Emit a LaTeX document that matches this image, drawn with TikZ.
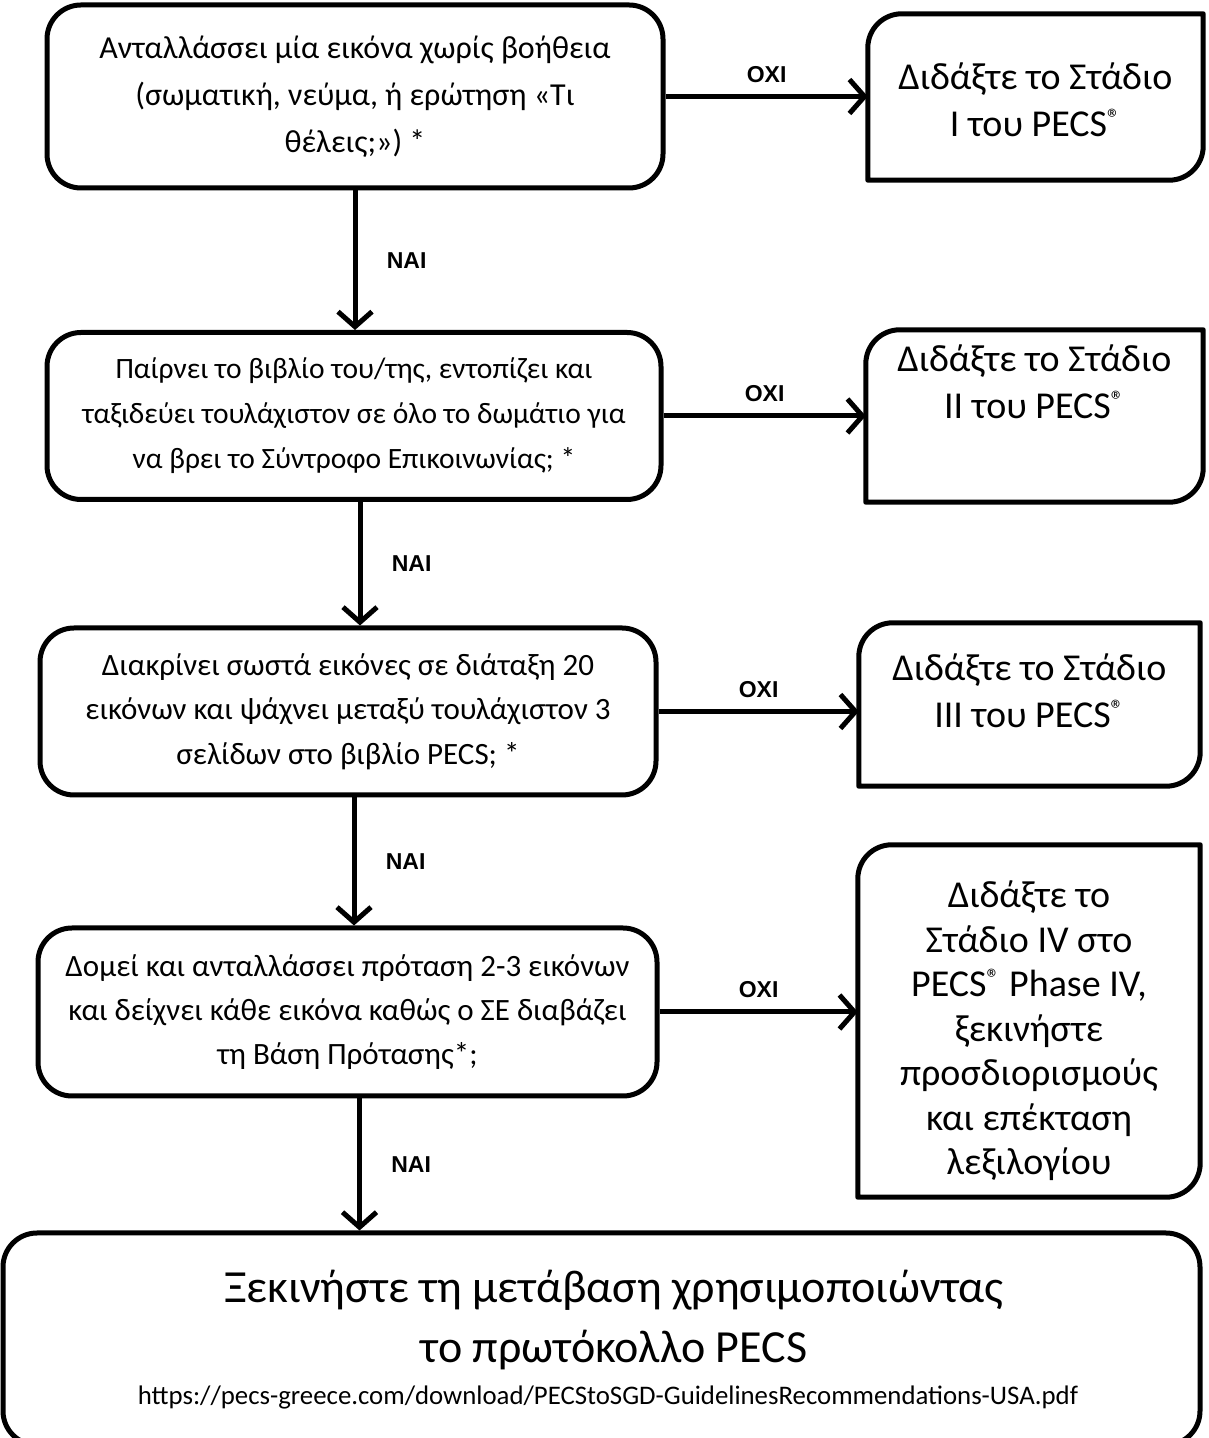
\documentclass[tikz,border=0pt]{standalone}
\usepackage{fontspec}
\setmainfont{Carlito}
\newfontfamily\labelfont{Liberation Sans}
\usetikzlibrary{arrows.meta}

\tikzset{every node/.style={align=center},
         qbox/.style={draw,line width=5pt,rounded corners=34pt,inner sep=0pt},
         abox/.style={inner sep=0pt},
         atext/.style={font=\fontsize{38}{47}\selectfont},
         outline/.style={line width=5pt,line join=round},
         flow/.style={line width=5pt,-{Straight Barb[length=15pt,width=34pt,line width=5pt]}},
         answer/.style={font=\labelfont\bfseries\fontsize{23}{26}\selectfont}}

\begin{document}
\begin{tikzpicture}[x=1pt,y=1pt]
\useasboundingbox (0,0) rectangle (1208,1438);
% questions
\node [qbox,minimum width=616,minimum height=183,font=\fontsize{32}{47}\selectfont] (b1) at (355,1341.5)
 {Ανταλλάσσει μία εικόνα χωρίς βοήθεια\\(σωματική, νεύμα, ή ερώτηση «Τι\\θέλεις;») *};
\node [qbox,minimum width=614,minimum height=167,font=\fontsize{29.5}{45}\selectfont] (b2) at (354,1022)
 {Παίρνει το βιβλίο του/της, εντοπίζει και\\ταξιδεύει τουλάχιστον σε όλο το δωμάτιο για\\να βρει το Σύντροφο Επικοινωνίας; *};
\node [qbox,minimum width=616,minimum height=167,font=\fontsize{31}{44.5}\selectfont] (b3) at (348,726.5)
 {Διακρίνει σωστά εικόνες σε διάταξη 20\\εικόνων και ψάχνει μεταξύ τουλάχιστον 3\\σελίδων στο βιβλίο PECS; *};
\node [qbox,minimum width=619,minimum height=168,font=\fontsize{31}{44}\selectfont] (b4) at (347.5,426)
 {Δομεί και ανταλλάσσει πρόταση 2-3 εικόνων\\και δείχνει κάθε εικόνα καθώς ο ΣΕ διαβάζει\\τη Βάση Πρότασης*;};
% answers
\node [abox,minimum width=335,minimum height=166] (r1) at (1035.5,1341) {};
\node [abox,minimum width=337,minimum height=172] (r2) at (1034.5,1022) {};
\node [abox,minimum width=341,minimum height=163] (r3) at (1029.5,733.5) {};
\node [abox,minimum width=342,minimum height=352] (r4) at (1029,417) {};
\node [atext] (r1t) at ([yshift=-3pt]r1) {Διδάξτε το Στάδιο\\Ι του PECS\textsuperscript{®}};
\node [atext] (r2t) at ([yshift=34pt]r2) {Διδάξτε το Στάδιο\\ΙΙ του PECS\textsuperscript{®}};
\node [atext] (r3t) at ([yshift=14pt]r3) {Διδάξτε το Στάδιο\\ΙΙΙ του PECS\textsuperscript{®}};
\node [atext,font=\fontsize{38}{44.5}\selectfont] (r4t) at ([yshift=-10pt]r4)
 {Διδάξτε το\\Στάδιο IV στο\\PECS\textsuperscript{®} Phase IV,\\ξεκινήστε\\προσδιορισμούς\\και επέκταση\\λεξιλογίου};
\foreach \r in {r1,r2,r3,r4}
 \draw [outline] (\r.north east) -- ([xshift=34pt]\r.north west) arc[start angle=90,end angle=180,radius=34]
   -- (\r.south west) -- ([xshift=-34pt]\r.south east) arc[start angle=-90,end angle=0,radius=34] -- cycle;
% final step
\node [qbox,minimum width=1197,minimum height=212] (bx) at (601.5,99) {};
\node [font=\fontsize{46}{60}\selectfont] (bxt) at (614,118) {Ξεκινήστε τη μετάβαση χρησιμοποιώντας\\το πρωτόκολλο PECS};
\node [font=\fontsize{26.8}{30}\selectfont] (url) at (608,41) {https://pecs-greece.com/download/PECStoSGD-GuidelinesRecommendations-USA.pdf};
% connectors
\draw [flow] (b1.east) -- node [answer,above=8pt] {OXI} (b1.east -| r1.west);
\draw [flow] (b2.east) -- node [answer,above=8pt] {OXI} (b2.east -| r2.west);
\draw [flow] (b3.east) -- node [answer,above=8pt] {OXI} (b3.east -| r3.west);
\draw [flow] (b4.east) -- node [answer,above=8pt] {OXI} (b4.east -| r4.west);
\draw [flow] (b1.south) -- node [answer,right=26pt] {NAI} (b1.south |- b2.north);
\draw [flow] ([xshift=6pt]b2.south) -- node [answer,right=26pt] {NAI} ([xshift=6pt]b2.south |- b3.north);
\draw [flow] ([xshift=6pt]b3.south) -- node [answer,right=26pt] {NAI} ([xshift=6pt]b3.south |- b4.north);
\draw [flow] ([xshift=12pt]b4.south) -- node [answer,right=26pt] {NAI} ([xshift=12pt]b4.south |- bx.north);
\end{tikzpicture}
\end{document}
